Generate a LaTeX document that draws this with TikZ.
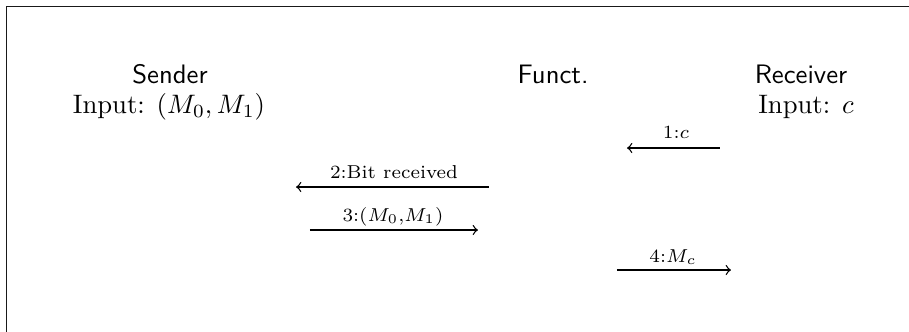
\documentclass[tikz,border=0pt]{standalone}
\usetikzlibrary{arrows}
\begin{document}
\begin{tikzpicture}[x=0.3745pt,y=-0.3745pt,
  party/.style={align=center,inner sep=0pt,anchor=base},
  msg/.style={->,line width=0.5pt},
  lbl/.style={font=\scriptsize,inner sep=0pt,anchor=base}]
\useasboundingbox (0,0) rectangle (909,331);
\draw[line width=0.6pt,black!90] (6.5,340) -- (6.5,6.5) -- (920,6.5);
% parties
\node[party] (snd) at (170,83) {\textsf{Sender}};
\node[party] (sndin) at (169,113) {Input: $(M_0,M_1)$};
\node[party] (fun) at (553,83) {\textsf{Funct.}};
\node[party] (rcv) at (801,83) {\textsf{Receiver}};
\node[party] (rcvin) at (806,113) {Input: $c$};
% messages
\coordinate (m1a) at (720,148); \coordinate (m1b) at (627,148);
\coordinate (m2a) at (489,187); \coordinate (m2b) at (296,187);
\coordinate (m3a) at (310,230); \coordinate (m3b) at (478,230);
\coordinate (m4a) at (617,270); \coordinate (m4b) at (731,270);
\draw[msg] (m1a) -- (m1b);
\draw[msg] (m2a) -- (m2b);
\draw[msg] (m3a) -- (m3b);
\draw[msg] (m4a) -- (m4b);
\node[lbl] (l1) at (676,138) {1:$c$};
\node[lbl] (l2) at (394,178) {2:Bit received};
\node[lbl] (l3) at (393,221) {3:$(M_0$,$M_1)$};
\node[lbl] (l4) at (673,262) {4:$M_c$};
\end{tikzpicture}
\end{document}
